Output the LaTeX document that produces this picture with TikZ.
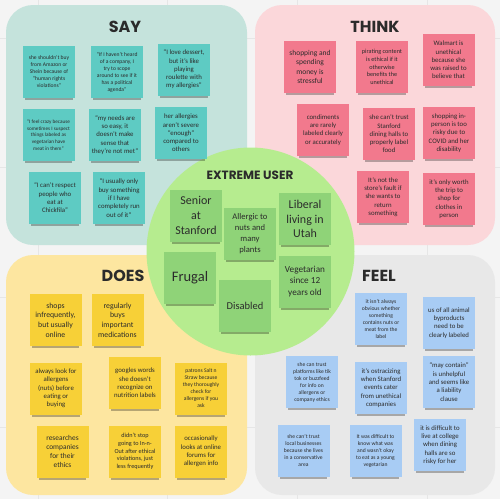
\documentclass[tikz,border=0pt]{standalone}
\usepackage{fontspec}
\setmainfont{Carlito}
\newfontfamily\titlefont{Poppins}
\usetikzlibrary{shadows}
\definecolor{bgc}{HTML}{F4F4F4}
\definecolor{gridc}{HTML}{E6E6E6}
\definecolor{saypanel}{HTML}{C5E3DC}
\definecolor{saynote}{HTML}{5ECBC3}
\definecolor{thinkpanel}{HTML}{FBD7DA}
\definecolor{thinknote}{HTML}{F2798D}
\definecolor{doespanel}{HTML}{FDE6A0}
\definecolor{doesnote}{HTML}{F7D037}
\definecolor{feelpanel}{HTML}{E8E8E8}
\definecolor{feelnote}{HTML}{A8CCF4}
\definecolor{circc}{HTML}{B6EC8F}
\definecolor{greennote}{HTML}{8FD378}
\definecolor{textc}{HTML}{2B2B2B}
\begin{document}
\begin{tikzpicture}[x=1pt,y=-1pt,
  note/.style={minimum width=52pt,minimum height=52pt,inner sep=1pt,align=center,text=textc,
    drop shadow={shadow xshift=0pt,shadow yshift=-4.5pt,shadow scale=0.92,opacity=0.28,fill=black}},
  saystyle/.style={note,fill=saynote},
  thinkstyle/.style={note,fill=thinknote},
  doesstyle/.style={note,fill=doesnote},
  feelstyle/.style={note,fill=feelnote},
  greenstyle/.style={note,fill=greennote},
  ftiny/.style={font=\fontsize{5.6}{7}\selectfont},
  fsmall/.style={font=\fontsize{6.2}{7.6}\selectfont},
  fmed/.style={font=\fontsize{6.8}{8.3}\selectfont},
  fbig/.style={font=\fontsize{7.8}{9.6}\selectfont},
  qtitle/.style={font=\titlefont\bfseries\fontsize{16}{19}\selectfont,text=textc,inner sep=0pt},
  panel/.style={rounded corners=27pt}]
\useasboundingbox (0,0) rectangle (500,499);
\fill[bgc] (0,0) rectangle (500,499);
\foreach \g in {38,167,297,427}{
  \draw[gridc,line width=0.6pt] (\g,0) -- (\g,499);
  \draw[gridc,line width=0.6pt] (0,\g) -- (500,\g);
}
% panels
\fill[saypanel,panel] (6,5) rectangle (247,245);
\fill[thinkpanel,panel] (255,5) rectangle (495,245);
\fill[doespanel,panel] (6,255) rectangle (247,495);
\fill[feelpanel,panel] (255,255) rectangle (495,495);
% central circle
\fill[circc] (250.5,251.5) circle [radius=104];
% titles
\node[qtitle] (saytitle) at (125,27) {SAY};
\node[qtitle] (thinktitle) at (375,27) {THINK};
\node[qtitle] (doestitle) at (123,276) {DOES};
\node[qtitle] (feeltitle) at (379,276) {FEEL};
\node[qtitle,font=\titlefont\bfseries\fontsize{12}{14}\selectfont] (extitle) at (250,175) {EXTREME USER};
% SAY notes
\node[saystyle,ftiny] (s1) at (49,72) {she shouldn't buy\\from Amazon or\\Shein because of\\“human rights\\violations”};
\node[saystyle,ftiny] (s2) at (117,72) {“If I haven't heard\\of a company, I\\try to scope\\around to see if it\\has a political\\agenda”};
\node[saystyle,fmed] (s3) at (184,69.5) {“I love dessert,\\but it's like\\playing\\roulette with\\my allergies”};
\node[saystyle,ftiny,font=\fontsize{5.2}{6.6}\selectfont] (s4) at (48.5,135) {“I feel crazy because\\sometimes I suspect\\things labeled as\\vegetarian have\\meat in them”};
\node[saystyle,fmed] (s5) at (115,135) {“my needs are\\so easy, it\\doesn't make\\sense that\\they're not met”};
\node[saystyle,fmed] (s6) at (181,133) {her allergies\\aren't severe\\“enough”\\compared to\\others};
\node[saystyle,fmed] (s7) at (55,198) {“I can't respect\\people who\\eat at\\Chickfila”};
\node[saystyle,fmed] (s8) at (119,198) {“I usually only\\buy something\\if I have\\completely run\\out of it”};
% THINK notes
\node[thinkstyle,fbig,font=\fontsize{7.5}{9.3}\selectfont] (t1) at (310,67) {shopping and\\spending\\money is\\stressful};
\node[thinkstyle,fsmall] (t2) at (382,67) {pirating content\\is ethical if it\\otherwise\\benefits the\\unethical};
\node[thinkstyle,fmed] (t3) at (448.5,60) {Walmart is\\unethical\\because she\\was raised to\\believe that};
\node[thinkstyle,fmed] (t4) at (323,130) {condiments\\are rarely\\labeled clearly\\or accurately};
\node[thinkstyle,fmed] (t5) at (389,134) {she can't trust\\Stanford\\dining halls to\\properly label\\food};
\node[thinkstyle,fmed] (t6) at (449,133) {shopping in-\\person is too\\risky due to\\COVID and her\\disability};
\node[thinkstyle,fmed] (t7) at (383,197) {It's not the\\store's fault if\\she wants to\\return\\something};
\node[thinkstyle,fmed] (t8) at (449,199) {it's only worth\\the trip to\\shop for\\clothes in\\person};
% DOES notes
\node[doesstyle,fbig] (d1) at (55.5,320) {shops\\infrequently,\\but usually\\online};
\node[doesstyle,fbig] (d2) at (117.5,320) {regularly\\buys\\important\\medications};
\node[doesstyle,fmed] (d3) at (56,388.5) {always look for\\allergens\\(nuts) before\\eating or\\buying};
\node[doesstyle,fmed] (d4) at (135,383) {googles words\\she doesn't\\recognize on\\nutrition labels};
\node[doesstyle,ftiny] (d5) at (201,388.5) {patrons Salt n\\Straw because\\they thoroughly\\check for\\allergens if you\\ask};
\node[doesstyle,fbig,font=\fontsize{7.4}{9}\selectfont] (d6) at (62.5,451.5) {researches\\companies\\for their\\ethics};
\node[doesstyle,fsmall] (d7) at (135,451.5) {didn't stop\\going to In-n-\\Out after ethical\\violations, just\\less frequently};
\node[doesstyle,fmed] (d8) at (201,451.5) {occasionally\\looks at online\\forums for\\allergen info};
% FEEL notes
\node[feelstyle,ftiny] (f1) at (381,319) {it isn't always\\obvious whether\\something\\contains nuts or\\meat from the\\label};
\node[feelstyle,fmed] (f2) at (449,323) {us of all animal\\byproducts\\need to be\\clearly labeled};
\node[feelstyle,ftiny] (f3) at (312,382) {she can trust\\platforms like tik\\tok or buzzfeed\\for info on\\allergens or\\company ethics};
\node[feelstyle,fmed] (f4) at (381,388) {it's ostracizing\\when Stanford\\events cater\\from unethical\\companies};
\node[feelstyle,fmed] (f5) at (449,382) {“may contain”\\is unhelpful\\and seems like\\a liability\\clause};
\node[feelstyle,ftiny] (f6) at (303.5,451) {she can't trust\\local businesses\\because she lives\\in a conservative\\area};
\node[feelstyle,ftiny] (f7) at (375.5,451) {It was difficult to\\know what was\\and wasn't okay\\to eat as a young\\vegetarian};
\node[feelstyle,fmed] (f8) at (440,445) {it is difficult to\\live at college\\when dining\\halls are so\\risky for her};
% EXTREME USER notes
\node[greenstyle,font=\fontsize{12}{14.7}\selectfont] (g1) at (196,215.5) {Senior\\at\\Stanford};
\node[greenstyle,font=\fontsize{8.6}{11}\selectfont] (g2) at (250,233.5) {Allergic to\\nuts and\\many\\plants};
\node[greenstyle,font=\fontsize{12}{14.4}\selectfont] (g3) at (305,219) {Liberal\\living in\\Utah};
\node[greenstyle,font=\fontsize{14.5}{17}\selectfont] (g4) at (190,278) {Frugal};
\node[greenstyle,font=\fontsize{10.5}{12}\selectfont] (g5) at (245,306) {Disabled};
\node[greenstyle,font=\fontsize{9.2}{11.3}\selectfont] (g6) at (305,281.5) {Vegetarian\\since 12\\years old};
\end{tikzpicture}
\end{document}
